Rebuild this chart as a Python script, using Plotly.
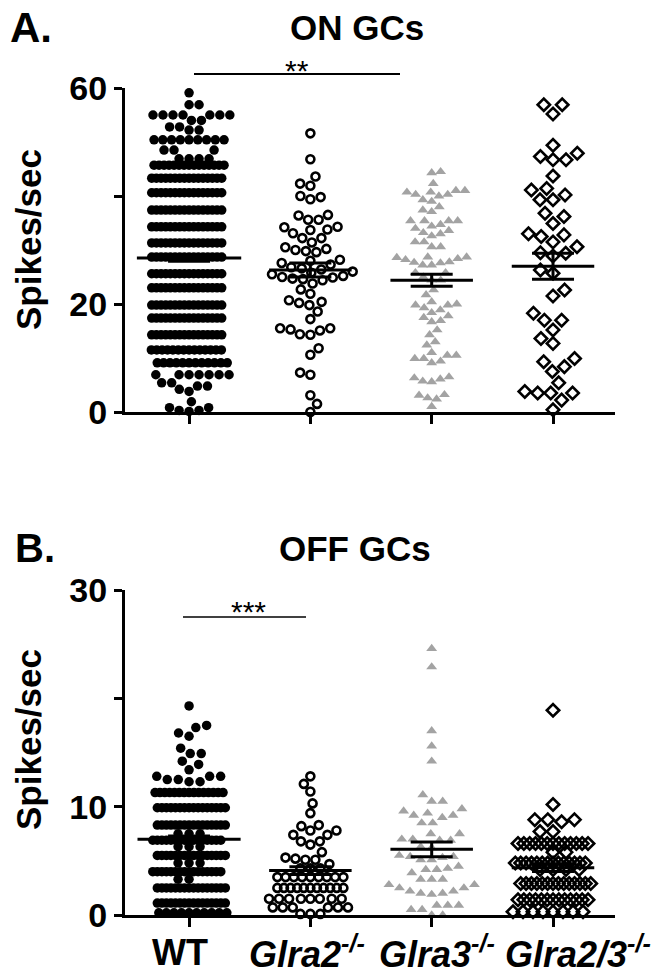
import math
from collections import Counter
import plotly.graph_objects as go

# ---------------- data ----------------
groups = ["WT", "Glra2", "Glra3", "Glra2/3"]
tick_labels = ["WT", "<i>Glra2</i><sup><i>-/-</i></sup>", "<i>Glra3</i><sup><i>-/-</i></sup>",
               "<i>Glra2/3</i><sup><i>-/-</i></sup>"]

# (value, number of cells at that value)
wt_on_rows = [(59.1, 1), (56.9, 2), (55.0, 7), (54.0, 2), (52.8, 2), (52.2, 2), (50.4, 9), (48.5, 3),
              (46.9, 4), (45.7, 15), (43.3, 16), (40.6, 16), (37.4, 16), (34.3, 16), (31.3, 16),
              (28.7, 16), (25.6, 16), (23.0, 16), (19.8, 16), (17.4, 16), (14.3, 16), (11.5, 14),
              (9.1, 12), (6.9, 7), (5.4, 2), (4.8, 2), (4.2, 1), (3.8, 1), (1.9, 1), (0.8, 2),
              (0.3, 2), (0.1, 1)]
glra2_on = [51.6, 46.8, 43.6, 42.3, 41.9, 40.0, 39.4, 39.8, 36.5, 36.4, 35.6, 35.6, 33.8, 34.2, 34.3,
            33.1, 33.7, 32.2, 32.2, 31.4, 30.5, 30.0, 29.6, 29.8, 30.2, 28.2, 27.6, 28.0, 27.3, 26.8,
            26.4, 26.6, 26.0, 25.8, 25.5, 25.2, 24.9, 24.7, 24.4, 25.0, 24.6, 23.8, 22.7, 21.9, 20.7,
            20.2, 20.4, 18.6, 19.8, 17.2, 15.5, 15.1, 14.3, 14.4, 15.3, 15.5, 11.8, 10.6, 6.9, 7.3,
            3.1, 1.5, 0.0]
glra3_on = [44.3, 44.5, 42.3, 41.0, 40.7, 40.3, 40.0, 39.0, 39.3, 40.3, 40.7, 41.0, 37.4, 37.1, 38.0,
            35.4, 35.4, 35.4, 35.4, 34.7, 34.0, 33.2, 32.6, 33.0, 33.6, 34.4, 31.5, 30.6, 30.6, 31.5,
            28.7, 28.2, 27.7, 27.2, 28.6, 27.2, 28.7, 27.8, 28.4, 27.6, 25.8, 25.8, 25.0, 24.4, 24.4,
            22.6, 21.7, 20.4, 20.0, 19.8, 19.3, 18.4, 17.5, 16.7, 16.9, 17.8, 18.9, 19.8, 15.2, 14.3,
            13.0, 12.4, 11.0, 10.5, 9.9, 10.5, 9.4, 9.9, 9.1, 6.3, 5.6, 6.5, 6.1, 5.7, 3.1, 2.6, 3.2,
            2.4, 1.0]
glra23_on = [56.9, 55.2, 56.9, 49.4, 47.9, 46.7, 46.7, 47.3, 43.7, 41.1, 39.3, 40.2, 41.4, 39.3, 36.2,
             34.9, 36.8, 32.8, 31.5, 32.5, 33.0, 30.6, 29.4, 28.9, 29.5, 25.7, 26.3, 22.6, 21.5, 18.3,
             17.0, 17.0, 15.2, 13.6, 12.7, 9.3, 7.5, 8.4, 9.9, 5.4, 3.5, 3.8, 3.5, 3.5, 2.2, 0.4]

wt_off_rows = [(19.3, 1), (17.5, 1), (17.3, 1), (16.8, 1), (16.5, 1), (15.4, 1), (14.9, 2), (14.2, 1),
               (13.9, 1), (13.4, 1), (12.8, 3), (12.5, 2), (12.3, 2), (11.3, 15), (9.9, 16), (8.3, 16),
               (7.5, 3), (6.9, 16), (6.3, 3), (5.5, 16), (4.8, 3), (4.0, 16), (3.3, 2), (2.5, 16),
               (1.1, 16), (0.2, 10)]
glra2_off_rows = [(12.8, 1), (12.1, 1), (11.4, 1), (10.3, 1), (9.4, 1), (8.2, 1), (8.3, 1), (7.8, 2),
                  (7.4, 2), (6.8, 2), (6.5, 1), (5.8, 1), (5.3, 1), (5.2, 1), (5.1, 2), (4.7, 1),
                  (4.3, 3), (3.5, 9), (2.5, 11), (1.5, 8), (0.7, 6), (0.1, 3)]
glra3_off = [24.6, 22.9, 17.0, 15.6, 14.2, 10.5, 10.5, 11.1, 9.4, 9.2, 9.6, 9.0, 9.2, 9.8, 8.5, 8.5,
             7.5, 7.5, 7.0, 6.9, 7.0, 6.9, 6.3, 6.2, 5.4, 5.1, 5.3, 5.4, 5.1, 5.5, 4.5, 4.2, 4.3, 4.2,
             3.9, 3.3, 3.3, 3.3, 2.8, 2.5, 2.2, 2.0, 1.9, 2.0, 2.2, 2.5, 2.8, 0.9, 0.5, 0.9, 0.5, 0.9,
             0.0, 0.0]
glra23_off_rows = [(18.9, 1), (10.2, 1), (8.8, 3), (8.6, 1), (7.7, 2), (6.6, 13), (5.8, 2), (4.8, 14),
                   (4.2, 4), (2.9, 14), (1.4, 13), (0.3, 8)]

on_mean = [28.5, 26.3, 24.4, 27.0]
on_sem = [0.6, 1.3, 1.1, 2.4]
off_mean = [7.0, 4.1, 6.06, 4.37]
off_sem = [0.3, 0.35, 0.68, 0.35]


def expand(rows):
    out = []
    for v, n in rows:
        out.extend([v] * n)
    return out


on_data = [expand(wt_on_rows), glra2_on, glra3_on, glra23_on]
off_data = [expand(wt_off_rows), expand(glra2_off_rows), glra3_off, expand(glra23_off_rows)]

# ---------------- styling / geometry (screen pixels; page body has an 8 px margin) ----------------
OFF = 8
W, H = 654, 970
PLOT_L, PLOT_R = 125, 615
X_RANGE = [-0.528, 3.511]
PX_PER_X = (PLOT_R - PLOT_L) / (X_RANGE[1] - X_RANGE[0])
A_TOP, A_BOT = 88, 412
B_TOP, B_BOT = 590, 915
A_MAX, B_MAX = 60, 30
FONT = "Liberation Sans, Arial, sans-serif"
GRAY = "#a3a3a3"


def fx(px):
    return (px - OFF) / W


def fy(py):
    return 1 - (py - OFF) / H


styles = [
    dict(symbol="circle", size=9.5, color="black", line=dict(width=0)),
    dict(symbol="circle-open", size=8, color="black", line=dict(width=2.6, color="black")),
    dict(symbol="triangle-up", size=9.5, color=GRAY, line=dict(width=0)),
    dict(symbol="diamond-open", size=9.5, color="black", line=dict(width=2.6, color="black")),
]
# (max spacing px, max row width px) per group
swarm_on = [(10, 70), (10.5, 70), (9, 62), (13, 45)]
swarm_off = [(11, 68), (10, 66), (11, 64), (13, 70)]
mean_hw_on = [0.43, 0.34, 0.34, 0.34]
mean_hw_off = [0.425, 0.34, 0.34, 0.34]


def swarm(vals, ppu, dmax, wmax):
    counts = Counter(vals)
    placed = []
    xs = [0.0] * len(vals)
    order = sorted(range(len(vals)), key=lambda i: vals[i])
    toggle = 1
    for i in order:
        y = vals[i] * ppu
        n = counts[vals[i]]
        di = dmax if n <= 1 else min(dmax, wmax / (n - 1))
        iv = []
        for yj, xj, dj in placed:
            d = min(di, dj)
            dy = abs(y - yj)
            if dy < d:
                h = math.sqrt(d * d - dy * dy)
                iv.append((xj - h, xj + h))
        cands = [0.0] + [a for a, b in iv] + [b for a, b in iv]
        valid = [c for c in cands if all(not (a + 1e-6 < c < b - 1e-6) for a, b in iv)]
        best = min(abs(c) for c in valid)
        opts = [c for c in valid if abs(abs(c) - best) < 1e-6]
        if len(opts) > 1 and max(opts) > 1e-9 and min(opts) < -1e-9:
            c = max(opts) if toggle > 0 else min(opts)
            toggle *= -1
        else:
            c = opts[0]
        placed.append((y, c, di))
        xs[i] = c
    return xs


fig = go.Figure()
panels = [
    (on_data, on_mean, on_sem, swarm_on, mean_hw_on, "x", "y", (A_BOT - A_TOP) / A_MAX),
    (off_data, off_mean, off_sem, swarm_off, mean_hw_off, "x2", "y2", (B_BOT - B_TOP) / B_MAX),
]
for data, means, sems, sw, hw, xa, ya, ppu in panels:
    for g, vals in enumerate(data):
        offs = swarm(vals, ppu, *sw[g])
        xs = [g + o / PX_PER_X for o in offs]
        fig.add_trace(go.Scatter(x=xs, y=vals, mode="markers", marker=styles[g], cliponaxis=False,
                                 showlegend=False, hoverinfo="y", xaxis=xa, yaxis=ya))
    for g in range(len(data)):
        fig.add_trace(go.Scatter(x=[g - hw[g], g + hw[g]], y=[means[g], means[g]], mode="lines",
                                 line=dict(color="black", width=3), cliponaxis=False,
                                 showlegend=False, xaxis=xa, yaxis=ya))
        fig.add_trace(go.Scatter(x=[g], y=[means[g]], mode="markers", marker=dict(size=1, opacity=0),
                                 error_y=dict(type="data", array=[sems[g]], visible=True, thickness=3,
                                              width=21, color="black"),
                                 cliponaxis=False, showlegend=False, xaxis=xa, yaxis=ya))

xdom = [fx(PLOT_L), fx(PLOT_R)]
common_x = dict(domain=xdom, range=X_RANGE, showgrid=False, zeroline=False, showline=True,
                linewidth=3, linecolor="black", ticks="outside", ticklen=9, tickwidth=3,
                tickcolor="black", tickvals=[0, 1, 2, 3], automargin=False, showticklabels=False)
common_y = dict(showgrid=False, zeroline=False, showline=True, linewidth=3, linecolor="black",
                ticks="outside", ticklen=8, tickwidth=3, tickcolor="black", automargin=False,
                tickfont=dict(family=FONT, size=34, color="black", weight="bold"))

fig.update_layout(
    template="none",
    width=W, height=H, margin=dict(l=0, r=0, t=0, b=0, pad=0), autosize=False,
    plot_bgcolor="white", paper_bgcolor="white",
    xaxis=dict(**common_x, anchor="y"),
    yaxis=dict(**common_y, anchor="x", domain=[fy(A_BOT), fy(A_TOP)], range=[0, A_MAX],
               tickvals=[0, 20, 60], ticktext=["0", "20", "60"],
               minor=dict(tickvals=[40], ticks="outside", ticklen=8, tickwidth=3, tickcolor="black")),
    xaxis2=dict(**common_x, anchor="y2"),
    yaxis2=dict(**common_y, anchor="x2", domain=[fy(B_BOT), fy(B_TOP)], range=[0, B_MAX],
                tickvals=[0, 10, 30], ticktext=["0", "10", "30"],
                minor=dict(tickvals=[20], ticks="outside", ticklen=8, tickwidth=3, tickcolor="black")),
)


def ann(text, x, y, size, bold=True, angle=0):
    fig.add_annotation(text=text, x=fx(x), y=fy(y), xref="paper", yref="paper",
                       xanchor="center", yanchor="middle", showarrow=False, textangle=angle,
                       font=dict(family=FONT, size=size, color="black",
                                 weight="bold" if bold else "normal"))


ann("A.", 31, 27, 42)
ann("ON GCs", 357, 27, 35)
ann("B.", 35, 548, 40)
ann("OFF GCs", 355, 548, 35)
ann("Spikes/sec", 28, 240, 35, angle=-90)
ann("Spikes/sec", 28, 740, 35, angle=-90)
ann("**", 297, 71, 30, bold=False)
ann("***", 248, 611, 30, bold=False)
for lbl, cx in zip(tick_labels, [180, 307, 437, 578]):
    ann(lbl, cx, 952, 36)
fig.add_shape(type="line", xref="paper", yref="paper", x0=fx(194), x1=fx(400), y0=fy(74),
              y1=fy(74), line=dict(color="black", width=2))
fig.add_shape(type="line", xref="paper", yref="paper", x0=fx(183), x1=fx(306), y0=fy(617),
              y1=fy(617), line=dict(color="black", width=1.5))

fig.write_html("out.html")
